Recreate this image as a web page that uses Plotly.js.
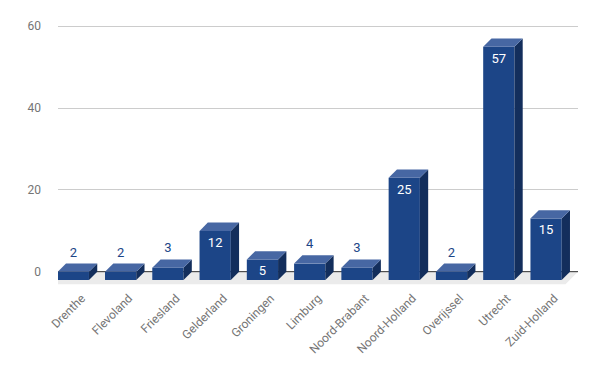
<!DOCTYPE html>
<html>
<head>
<meta charset="utf-8">
<script src="https://cdn.plot.ly/plotly-3.0.1.min.js"></script>
<style>html,body{margin:0;padding:0;background:#fff}#chart{width:600px;height:371px}</style>
</head>
<body>
<div id="chart"></div>
<script>
// ---- data ----
const categories = ["Drenthe","Flevoland","Friesland","Gelderland","Groningen","Limburg","Noord-Brabant","Noord-Holland","Overijssel","Utrecht","Zuid-Holland"];
const values = [2, 2, 3, 12, 5, 4, 3, 25, 2, 57, 15];
const yTickVals = [0, 20, 40, 60];

// ---- layout geometry ----
const W = 600, H = 371;
const M = {l: 57.5, r: 21.5, t: 18, b: 85};
const xRange = [-0.5, categories.length - 0.5];
const yRange = [-3.5, 62];
const pxPerX = (W - M.l - M.r) / (xRange[1] - xRange[0]);
const pxPerY = (H - M.t - M.b) / (yRange[1] - yRange[0]);
const depthPx = 8.3, floorPx = 12.5, barPx = 31.3;
const dx = depthPx / pxPerX, dy = depthPx / pxPerY;
const fdx = floorPx / pxPerX, fdy = floorPx / pxPerY;
const bw = barPx / pxPerX;

const FRONT = "#1c4587", TOP = "#4767a3", SIDE = "#132e5c";
const traces = [];

// front faces (bars)
traces.push({
  type: "bar", x: values.map((v, i) => i - dx), y: values, base: values.map(() => -dy),
  width: bw, marker: {color: FRONT, line: {width: 0}}, hoverinfo: "skip"
});

values.forEach((v, i) => {
  const xL = i - dx - bw / 2, xR = xL + bw;
  traces.push({
    type: "scatter", mode: "lines", fill: "toself", fillcolor: SIDE,
    line: {width: 0, color: SIDE}, hoverinfo: "skip",
    x: [xR, xR, xR + dx, xR + dx, xR], y: [-dy, v - dy, v, 0, -dy]
  });
  traces.push({
    type: "scatter", mode: "lines", fill: "toself", fillcolor: TOP,
    line: {width: 0, color: TOP}, hoverinfo: "skip",
    x: [xL, xR, xR + dx, xL + dx, xL], y: [v - dy, v - dy, v, v, v - dy]
  });
});

// labels
const inside = values.map(v => v >= 5);
traces.push({
  type: "scatter", mode: "text", hoverinfo: "skip", cliponaxis: false,
  x: values.map((v, i) => i - dx).filter((_, i) => inside[i]),
  y: values.filter((_, i) => inside[i]).map(v => v - dy - 1.5),
  text: values.filter((_, i) => inside[i]).map(String),
  textposition: "bottom center",
  textfont: {family: "Roboto, Arial, sans-serif", size: 13, color: "#ffffff"}
});
traces.push({
  type: "scatter", mode: "text", hoverinfo: "skip", cliponaxis: false,
  x: values.map((v, i) => i - dx).filter((_, i) => !inside[i]),
  y: values.filter((_, i) => !inside[i]).map(v => v + 0.9),
  text: values.filter((_, i) => !inside[i]).map(String),
  textposition: "top center",
  textfont: {family: "Roboto, Arial, sans-serif", size: 13, color: "#1c4587"}
});

const layout = {
  width: W, height: H, margin: M,
  paper_bgcolor: "#ffffff", plot_bgcolor: "#ffffff",
  showlegend: false, hovermode: false,
  font: {family: "Roboto, Arial, sans-serif", size: 12, color: "#757575"},
  shapes: [
    { type: "path", layer: "between", xref: "x", yref: "y",
      path: `M ${xRange[0]} 0 L ${xRange[1]} 0 L ${xRange[1] - fdx} ${-fdy} L ${xRange[0] - fdx} ${-fdy} Z`,
      fillcolor: "#ebebeb", line: {width: 0} },
    { type: "line", layer: "between", xref: "x", yref: "y",
      x0: xRange[0], x1: xRange[1], y0: 0, y1: 0, line: {width: 1, color: "#333333"} }
  ],
  xaxis: {
    range: xRange, tickmode: "array", tickvals: categories.map((c, i) => i), ticktext: categories,
    tickangle: -45, showgrid: false, zeroline: false, showline: false, ticks: "",
    ticklabelstandoff: 2, tickfont: {size: 12, color: "#757575"}
  },
  yaxis: {
    range: yRange, tickmode: "array", tickvals: yTickVals, ticktext: yTickVals.map(String),
    showgrid: true, gridcolor: "#cccccc", gridwidth: 1, zeroline: false, showline: false,
    ticks: "", ticklabelstandoff: 16, tickfont: {size: 12, color: "#757575"}
  }
};

Plotly.newPlot("chart", traces, layout, {staticPlot: true, displayModeBar: false});
</script>
</body>
</html>
